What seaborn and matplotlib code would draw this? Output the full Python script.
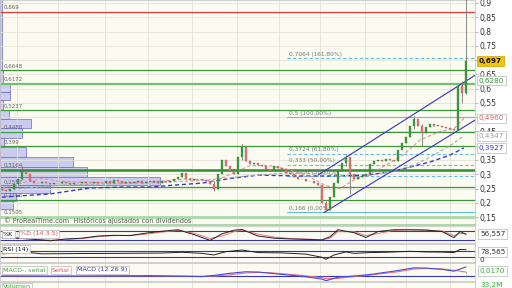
import numpy as np
import pandas as pd
import matplotlib
matplotlib.use('Agg')
import matplotlib.pyplot as plt
import seaborn as sns
from matplotlib.transforms import blended_transform_factory as btf

sns.set_theme(style='white')
plt.rcParams['font.family'] = ['DejaVu Sans']

# ---------------- data ----------------
first_open = 0.25
closes = [0.245, 0.24, 0.25, 0.265, 0.285, 0.31, 0.30, 0.275, 0.27, 0.268,
          0.272, 0.268, 0.265, 0.27, 0.268, 0.272, 0.27, 0.267, 0.27, 0.268,
          0.272, 0.27, 0.268, 0.272, 0.27, 0.268, 0.275, 0.27, 0.28, 0.275,
          0.27, 0.272, 0.268, 0.272, 0.275, 0.27, 0.273, 0.272, 0.275, 0.27,
          0.275, 0.272, 0.278, 0.285, 0.29, 0.305, 0.285, 0.28, 0.282, 0.285,
          0.28, 0.275, 0.265, 0.25, 0.30, 0.35, 0.33, 0.31, 0.30, 0.36,
          0.395, 0.345, 0.335, 0.338, 0.332, 0.33, 0.318, 0.31, 0.33, 0.322,
          0.318, 0.305, 0.30, 0.292, 0.285, 0.282, 0.278, 0.275, 0.268, 0.262,
          0.20, 0.175, 0.22, 0.27, 0.31, 0.34, 0.36, 0.30, 0.285, 0.29,
          0.295, 0.30, 0.335, 0.345, 0.35, 0.348, 0.352, 0.35, 0.345, 0.385,
          0.41, 0.43, 0.47, 0.495, 0.47, 0.445, 0.465, 0.475, 0.47, 0.468,
          0.465, 0.462, 0.46, 0.455, 0.61, 0.585, 0.697]
wick_idx = [5, 53, 60, 81, 86, 87, 103, 105, 115, 116]
wick_low = [0.28, 0.24, 0.35, 0.166, 0.33, 0.23, 0.46, 0.40, 0.55, 0.58]
wick_high = [0.33, 0.275, 0.405, 0.205, 0.372, 0.36, 0.505, 0.475, 0.625, 0.93]

month_starts = [3.75, 14, 25.75, 36.5, 47.5, 58.75, 69.25, 79.5, 90.75, 101, 112]

ma_long_idx = [0, 12, 22, 30, 37, 43, 50, 57, 64, 74, 82, 91, 97, 102, 107, 112, 115.5]
ma_long_val = [0.220, 0.231, 0.252, 0.255, 0.255, 0.262, 0.269, 0.285, 0.297, 0.294,
               0.294, 0.297, 0.308, 0.325, 0.343, 0.367, 0.3927]
ma_mid_idx = [0, 15, 37, 50, 62, 72, 82, 90, 97, 102, 107, 112, 115.5]
ma_mid_val = [0.245, 0.262, 0.27, 0.278, 0.295, 0.305, 0.30, 0.29, 0.31, 0.325, 0.36, 0.40, 0.4347]
ma_short_idx = [0, 5, 10, 15, 25, 37, 47, 53, 57, 62, 67, 72, 77, 81, 84.5, 88, 92, 97,
                100.5, 104.5, 109.5, 113, 115.5]
ma_short_val = [0.25, 0.27, 0.285, 0.275, 0.27, 0.272, 0.285, 0.275, 0.30, 0.33, 0.33, 0.315,
                0.29, 0.26, 0.25, 0.28, 0.30, 0.34, 0.37, 0.42, 0.45, 0.46, 0.496]

support_levels = [0.6648, 0.6172, 0.5237, 0.4488, 0.399, 0.3164, 0.2557, 0.2105, 0.1505]
resistance_level = 0.869
fib_levels = [0.7064, 0.5, 0.3724, 0.333, 0.2936, 0.166]
fib_pcts = [161.8, 100.0, 61.8, 50.0, 38.2, 0.0]
fib_start = 71.25
chan_up_idx = [79, 118.25]
chan_up_val = [0.297, 0.6467]
chan_lo_idx = [80.5, 118.25]
chan_lo_val = [0.166, 0.4895]

vp_low = [0.665, 0.620, 0.588, 0.560, 0.525, 0.494, 0.462, 0.427, 0.396, 0.361, 0.325,
          0.290, 0.262, 0.234, 0.206, 0.178]
vp_high = [0.910, 0.665, 0.620, 0.588, 0.560, 0.525, 0.494, 0.462, 0.427, 0.396, 0.361,
           0.325, 0.290, 0.262, 0.234, 0.206]
vp_vol = [2, 3, 10, 10, 3, 9, 31, 22, 4, 26, 73, 87, 160, 50, 16, 13]

st_idx = [0, 4, 8, 12, 16, 20, 24, 28, 32, 36, 40, 44, 48, 52, 55, 58, 60, 64, 68, 72,
          76, 80, 82, 84, 88, 91, 94, 98, 102, 106, 110, 113, 114.5, 116]
st_k = [32, 30, 22, 12, 25, 30, 45, 50, 48, 65, 78, 88, 55, 15, 60, 85, 90, 45, 30, 25,
        22, 18, 40, 88, 68, 35, 76, 88, 88, 86, 76, 34, 76, 56.557]
st_d = [35, 31, 25, 16, 20, 28, 40, 48, 49, 58, 72, 84, 65, 28, 45, 75, 86, 58, 38, 28,
        24, 20, 30, 75, 75, 48, 62, 84, 88, 86, 80, 48, 62, 62]

rsi_idx = [0, 6, 10, 20, 30, 40, 45, 50, 53, 56, 60, 64, 70, 76, 80, 81, 83, 86, 88, 92,
           96, 102, 106, 110, 113, 114.5, 116]
rsi_val = [52, 62, 52, 54, 55, 57, 62, 55, 45, 66, 76, 60, 58, 50, 30, 17, 45, 64, 55, 60,
           62, 68, 64, 63, 60, 80, 78.565]

macd_idx = [0, 12, 25, 37, 50, 53, 57, 61, 64, 67, 75, 80, 81, 84, 88, 92, 99, 103, 106,
            110, 113, 116]
macd_val = [0.0, -0.001, 0.0, 0.001, -0.002, 0.002, 0.009, 0.014, 0.013, 0.009, -0.001,
            -0.01, -0.0155, -0.004, 0.0, 0.005, 0.018, 0.027, 0.026, 0.022, 0.016, 0.03]
signal_val = [0.0, -0.0005, 0.0, 0.0005, -0.001, 0.0, 0.004, 0.010, 0.012, 0.011, 0.002,
              -0.006, -0.009, -0.008, -0.002, 0.003, 0.014, 0.023, 0.025, 0.023, 0.019, 0.013]
hist_val = [0.0, -0.0005, 0.0, 0.0005, -0.001, 0.002, 0.005, 0.004, 0.001, -0.002, -0.003,
            -0.004, -0.0065, 0.004, 0.002, 0.002, 0.004, 0.004, 0.001, -0.001, -0.003, 0.017]

# ---------------- layout ----------------
W, H = 512, 288
def rect(x0, y0, x1, y1):
    return [x0 / W, 1 - y1 / H, (x1 - x0) / W, (y1 - y0) / H]

BG = '#fbfbf1'
GRID = '#e2e2d6'
XL = (-0.5, 118.25)
YL = (0.1222, 0.9105)
BLUE = '#3434c4'
def cfmt(v):
    return ('%g' % v).replace('.', ',')

fig = plt.figure(figsize=(5.12, 2.88), dpi=100)
fig.patch.set_facecolor('white')

# volume-profile axes (behind)
ax_vp = fig.add_axes(rect(0, 0, 475, 225))
ax_vp.set_facecolor(BG)
vp = pd.DataFrame({'low': vp_low, 'high': vp_high, 'vol': vp_vol})
ax_vp.barh(y=vp['low'], width=vp['vol'], height=vp['high'] - vp['low'], left=0,
           align='edge', color='#c6c6f0', alpha=0.9, edgecolor='#7272cc', linewidth=0.6)
ax_vp.set_xlim(0, 475)
ax_vp.set_ylim(*YL)
ax_vp.set_xticks([]); ax_vp.set_yticks([])
for s in ax_vp.spines.values():
    s.set_visible(False)

# main axes
ax = fig.add_axes(rect(0, 0, 475, 225))
ax.patch.set_alpha(0)
ax.set_xlim(*XL)
ax.set_ylim(*YL)
ax.set_xticks(month_starts)
ax.set_xticklabels([])
yt = np.round(np.arange(0.15, 0.901, 0.05), 2)
hidden = (0.7, 0.5, 0.4)
ax.set_yticks(yt)
ax.set_yticklabels(['' if v in hidden else cfmt(v) for v in yt])
ax.yaxis.tick_right()
ax.tick_params(axis='y', right=True, left=False, labelright=True, labelleft=False,
               length=2, pad=1.5, labelsize=5.5, labelcolor='#333333', color='#999999', width=0.5)
ax.tick_params(axis='x', length=0)
ax.grid(True, color=GRID, lw=0.6)
ax.set_axisbelow(True)
for k, s in ax.spines.items():
    s.set_color('#c8c8c8'); s.set_linewidth(0.6)
ax.spines['bottom'].set_color('#a9d8a9'); ax.spines['bottom'].set_linewidth(1.4)

# support / resistance lines
for lvl in support_levels:
    if lvl in (0.6172,):
        c, lw = '#72c072', 1.6
    elif lvl in (0.3164,):
        c, lw = '#2f8f2f', 1.8
    elif lvl in (0.1505,):
        c, lw = '#a9d8a9', 2.0
    else:
        c, lw = '#3a9a3a', 0.9
    ax.axhline(lvl, color=c, lw=lw, zorder=2)
    ax.annotate(cfmt(lvl), (0.3, lvl), xytext=(0, 1.2), textcoords='offset points',
                fontsize=4, color='#666666', va='bottom', ha='left', zorder=3)
ax.axhline(resistance_level, color='#e03a3a', lw=0.9, zorder=2)
ax.annotate(cfmt(resistance_level), (0.3, resistance_level), xytext=(0, 1.2),
            textcoords='offset points', fontsize=4, color='#666666', va='bottom')

# fibonacci lines
for lvl, pct in zip(fib_levels, fib_pcts):
    ls = '-' if pct in (0.0, 100.0) else (0, (3, 2))
    ax.plot([fib_start, XL[1]], [lvl, lvl], color='#5fbdf0', lw=0.8, ls=ls, zorder=2)
    ax.annotate('%s (%s%%)' % (cfmt(lvl), ('%.2f' % pct).replace('.', ',')),
                (fib_start + 0.6, lvl), xytext=(0, 1.0), textcoords='offset points',
                fontsize=4.2, color='#777777', va='bottom', zorder=3)

# moving averages
sns.lineplot(x=ma_long_idx, y=ma_long_val, ax=ax, color='#3a3ad0', lw=1.0,
             linestyle=(0, (3, 2)), sort=False, zorder=3)
sns.lineplot(x=ma_mid_idx, y=ma_mid_val, ax=ax, color='#aaaaaa', lw=0.8,
             linestyle=(0, (3, 2)), sort=False, zorder=3)
sns.lineplot(x=ma_short_idx, y=ma_short_val, ax=ax, color='#e89090', lw=0.8,
             linestyle=(0, (3, 2)), sort=False, zorder=3)

# channel
sns.lineplot(x=chan_up_idx, y=chan_up_val, ax=ax, color=BLUE, lw=0.8, zorder=3)
sns.lineplot(x=chan_lo_idx, y=chan_lo_val, ax=ax, color=BLUE, lw=0.8, zorder=3)

# candles
idx = np.arange(len(closes))
opens = [first_open] + closes[:-1]
hi = [max(o, c) for o, c in zip(opens, closes)]
lo = [min(o, c) for o, c in zip(opens, closes)]
for i, l, h in zip(wick_idx, wick_low, wick_high):
    lo[i] = l; hi[i] = h
up = [c >= o for o, c in zip(opens, closes)]
ax.vlines(idx, lo, hi, color='#777777', lw=0.6, zorder=4)
body_lo = [min(o, c) for o, c in zip(opens, closes)]
body_h = [max(abs(c - o), 0.003) for o, c in zip(opens, closes)]
ax.bar(idx, body_h, bottom=body_lo, width=0.5,
       color=['#3f9f3f' if u else '#e07878' for u in up],
       edgecolor=['#2a6a2a' if u else '#a04848' for u in up], linewidth=0.2, zorder=5)

# right-hand value boxes
tr = btf(ax.transAxes, ax.transData)
def rbox(y, s, color, fc='white', ec='#b8b8b8', weight='normal'):
    ax.text(1.008, y, s, transform=tr, va='center', ha='left', fontsize=5.2, color=color,
            fontweight=weight, clip_on=False, zorder=20,
            bbox=dict(boxstyle='square,pad=0.25', fc=fc, ec=ec, lw=0.5))
rbox(0.697, '0,697', '#111111', fc='#f3c40f', ec='#c9a000', weight='bold')
rbox(0.628, '0,6280', '#2f9a2f')
rbox(0.496, '0,4960', '#e06060')
rbox(0.4347, '0,4347', '#9a9a9a')
rbox(0.3927, '0,3927', '#3434d0')

fig.text(4 / W, 1 - 221 / H, '© ProRealTime.com  Históricos ajustados con dividendos',
         fontsize=4.7, color='#555555', va='center', ha='left')

def panel(y0, y1, ylim):
    a = fig.add_axes(rect(0, y0, 475, y1))
    a.set_facecolor(BG)
    a.set_xlim(*XL); a.set_ylim(*ylim)
    a.set_xticks(month_starts); a.set_xticklabels([])
    a.set_yticks([])
    a.grid(True, axis='x', color=GRID, lw=0.6)
    a.tick_params(length=0)
    for s in a.spines.values():
        s.set_color('#c8c8c8'); s.set_linewidth(0.6)
    return a

def legbox(xpx, ypx, s, color):
    fig.text(xpx / W, 1 - ypx / H, s, fontsize=4.6, color=color, va='center', ha='left',
             zorder=20, bbox=dict(boxstyle='square,pad=0.2', fc='white', ec='#b8b8b8', lw=0.5))

def rtext(ypx, s, color, box=True):
    kw = dict(bbox=dict(boxstyle='square,pad=0.25', fc='white', ec='#b8b8b8', lw=0.5)) if box else {}
    fig.text(480 / W, 1 - ypx / H, s, fontsize=5.2, color=color, va='center', ha='left', **kw)

# stochastic
ax_st = panel(226, 243, (-3, 114))
ax_st.axhline(80, color=BLUE, lw=0.8)
ax_st.axhline(20, color=BLUE, lw=0.8)
sns.lineplot(x=st_idx, y=st_d, ax=ax_st, color='#e87878', lw=0.7, sort=False)
sns.lineplot(x=st_idx, y=st_k, ax=ax_st, color='#222222', lw=0.7, sort=False)
legbox(3, 234, '%K', '#111111')
legbox(20, 234, '%D (14 3 5)', '#e05050')
rtext(234, '56,557', '#333333')

# RSI
ax_rsi = panel(244, 262, (0, 114.6))
ax_rsi.axhline(70, color=BLUE, lw=0.8)
ax_rsi.axhline(30, color=BLUE, lw=0.8)
sns.lineplot(x=rsi_idx, y=rsi_val, ax=ax_rsi, color='#222222', lw=0.7, sort=False)
legbox(3, 249, 'RSI (14)', '#111111')
rtext(252, '78,565', '#333333')
rtext(259.5, '0', '#333333', box=False)

# MACD
ax_m = panel(263, 281, (-0.0165, 0.0429))
ax_m.axhline(0, color=BLUE, lw=0.8)
ax_m.vlines(macd_idx, 0, hist_val, color=['#3fae3f' if h >= 0 else '#e06060' for h in hist_val],
            lw=0.8, linestyles=':')
sns.lineplot(x=macd_idx, y=signal_val, ax=ax_m, color='#e87878', lw=0.8, sort=False)
sns.lineplot(x=macd_idx, y=macd_val, ax=ax_m, color='#4848e0', lw=0.8, sort=False)
legbox(3, 270, 'MACD-, señal', '#3aa83a')
legbox(52, 270, 'Señal', '#e05050')
legbox(77, 270, 'MACD (12 26 9)', '#3434c4')
rtext(271, '0,0170', '#3aa83a')

# volume strip
ax_v = panel(282, 292, (0, 1))
legbox(3, 286.5, 'Volumen', '#3aa83a')
rtext(285.5, '33,2M', '#3aa83a', box=False)

fig.savefig('out.png', dpi=100, facecolor='white')
